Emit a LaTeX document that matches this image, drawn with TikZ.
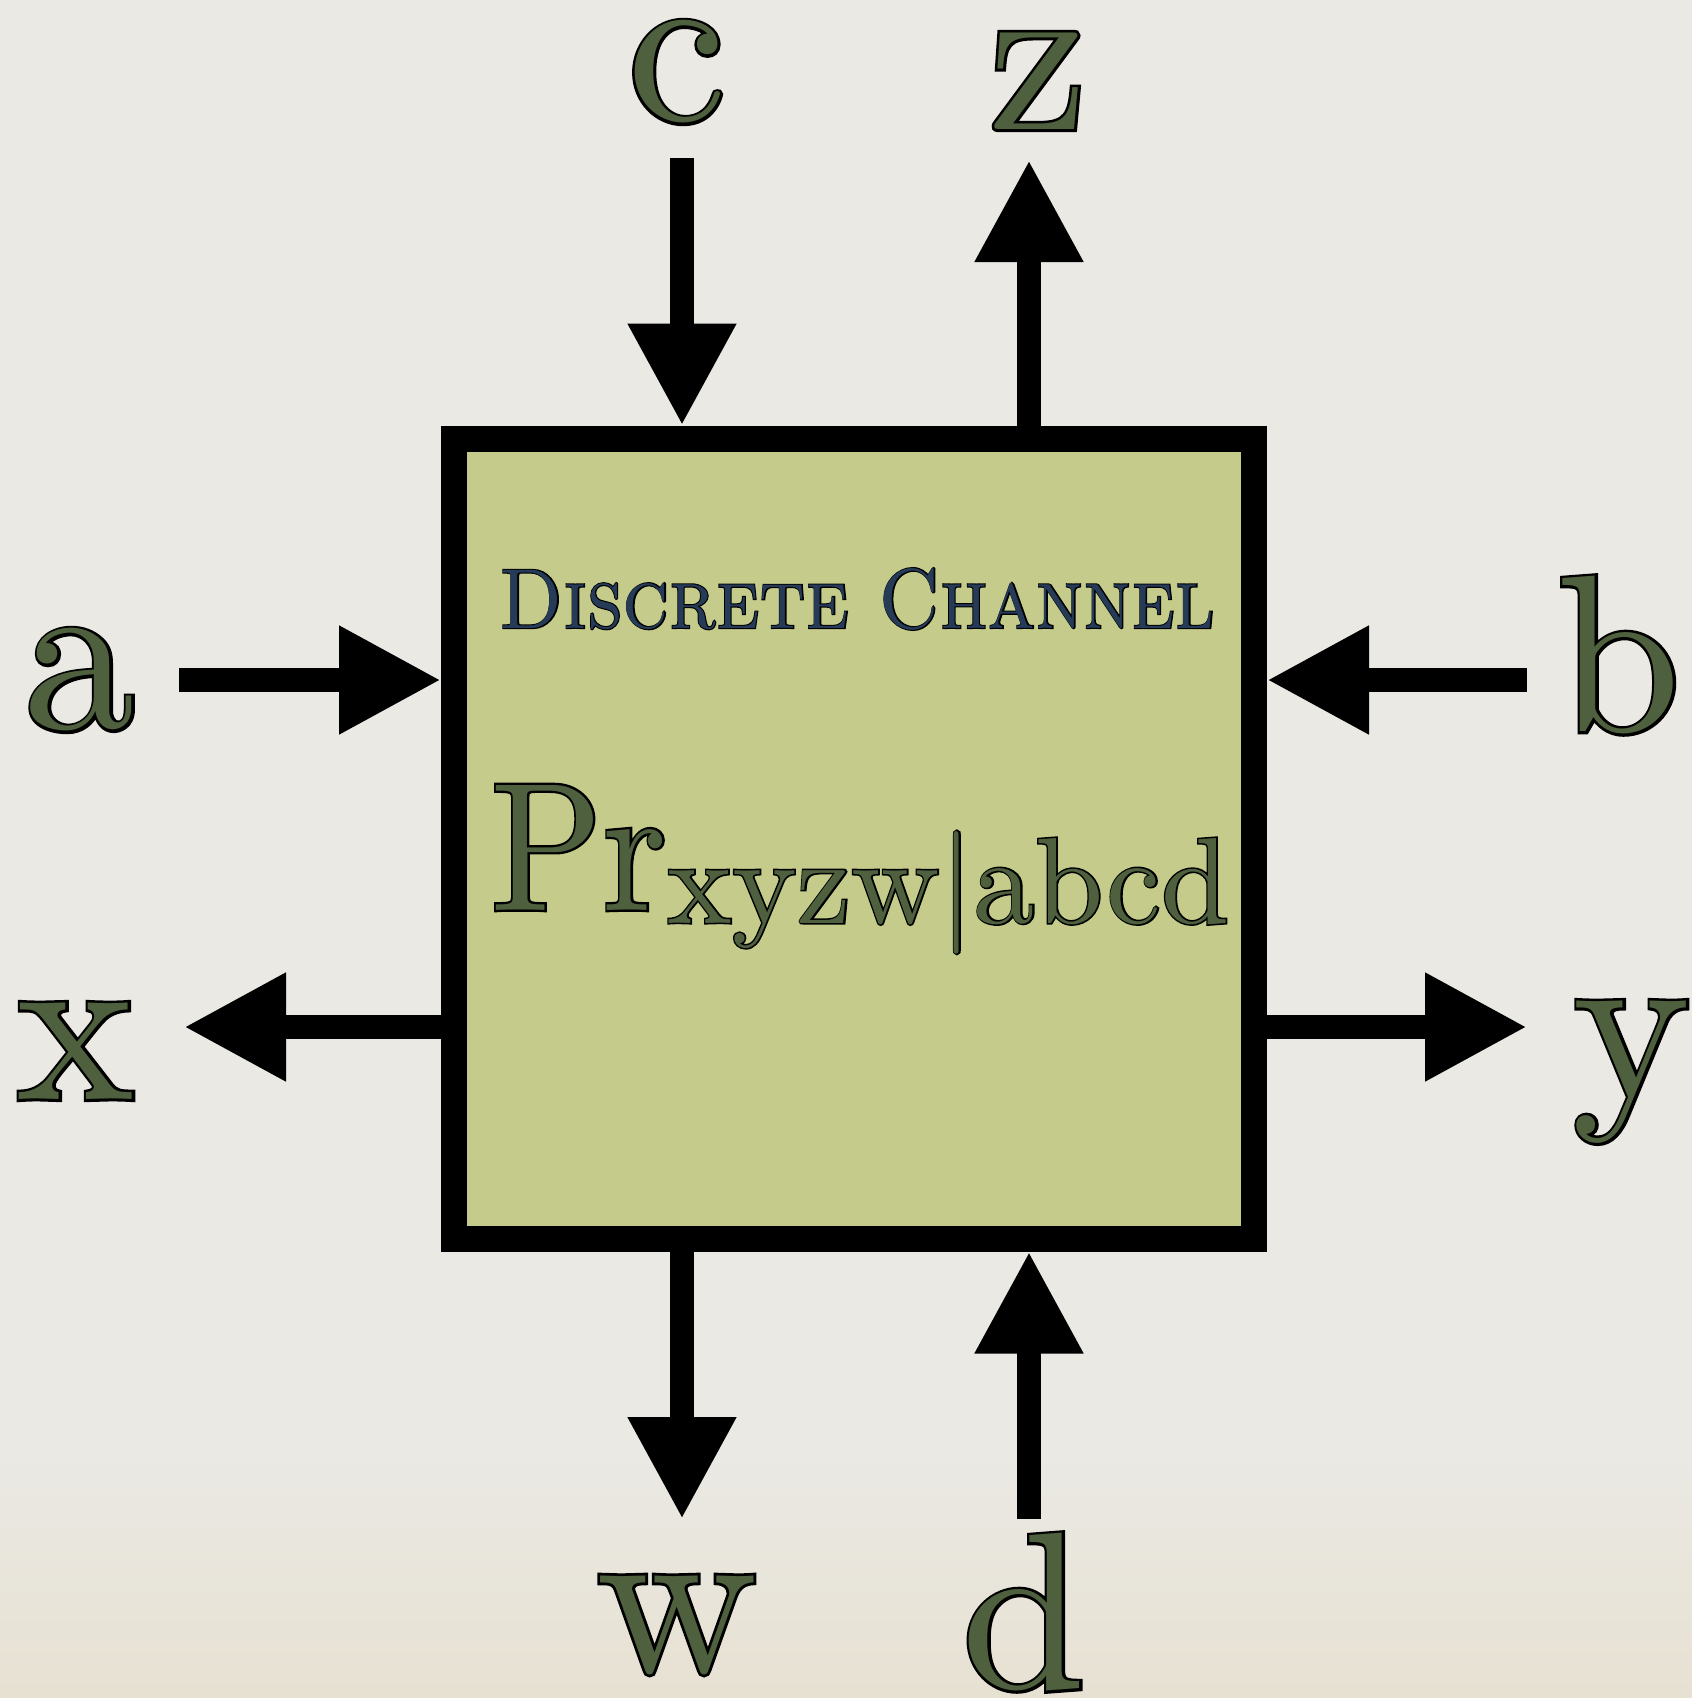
\documentclass[tikz,border=0pt]{standalone}
\usepackage{fontspec}
\usepackage{graphicx}
\setmainfont[Extension=.otf,SmallCapsFont=lmromancaps10-regular]{lmroman10-regular}
\newfontfamily\olfont[Extension=.otf,SmallCapsFont=lmromancaps10-regular,FakeBold=2.5]{lmroman10-regular}
\usetikzlibrary{arrows.meta}
\definecolor{bgc}{HTML}{EAE9E4}
\definecolor{bgwarm}{HTML}{E7E1D2}
\definecolor{boxfill}{HTML}{C5CC8B}
\definecolor{lettergreen}{HTML}{4F603E}
\definecolor{titlenavy}{HTML}{263B58}
\newcommand\outl[1]{\rlap{\color{black}\olfont #1}#1}
\begin{document}
\begin{tikzpicture}[x=0.5pt,y=-0.5pt,
  flow/.style={line width=12pt,-{Triangle[width=51pt,length=51pt]}},
  lbl/.style={inner sep=0pt,font=\fontsize{112}{112}\selectfont,text=lettergreen},
  chbox/.style={draw=black,line width=13pt,fill=boxfill,minimum width=400pt,minimum height=400pt,inner sep=0pt}]
\fill[bgc] (0,0) rectangle (1692,1698);
\shade[top color=bgc,bottom color=bgwarm] (0,1450) rectangle (1692,1698);
\useasboundingbox (0,0) rectangle (1692,1698);
\node[chbox] (ch) at (854,838.5) {};
\node[inner sep=0pt,text=titlenavy,font=\fontsize{40}{40}\selectfont] (title) at (857,599) {\resizebox{358pt}{30pt}{\outl{\scshape Discrete Channel}}};
\node[inner sep=0pt,anchor=base west,text=lettergreen,font=\fontsize{100}{100}\selectfont] (pr) at (490,910) {\resizebox{88.5pt}{62.5pt}{\outl{Pr}}};
\node[inner sep=0pt,anchor=base west,text=lettergreen,font=\fontsize{62}{62}\selectfont] (sub) at (667,923) {\resizebox{281pt}{!}{\outl{xyzw|abcd}}};
% labels
\node[lbl] (lc) at (677,72) {\outl{c}};
\node[lbl] (lz) at (1038,81) {\outl{z}};
\node[lbl] (la) at (80,680) {\outl{a}};
\node[lbl] (lb) at (1619,655) {\outl{b}};
\node[lbl] (lx) at (76,1051) {\outl{x}};
\node[lbl] (ly) at (1632,1072) {\outl{y}};
\node[lbl] (lw) at (677,1625) {\outl{w}};
\node[lbl] (ld) at (1024,1612) {\outl{d}};
% arrow ends
\coordinate (cs) at (682,158);
\coordinate (ze) at (1029,160);
\coordinate (as) at (179,680);
\coordinate (bs) at (1527,680);
\coordinate (xe) at (184,1027);
\coordinate (ye) at (1527,1027);
\coordinate (we) at (682,1519);
\coordinate (ds) at (1029,1519);
\draw[flow] (cs) -- (cs |- ch.north);
\draw[flow] (ze |- ch.north) -- (ze);
\draw[flow] (as) -- (as -| ch.west);
\draw[flow] (bs) -- (bs -| ch.east);
\draw[flow] (xe -| ch.west) -- (xe);
\draw[flow] (ye -| ch.east) -- (ye);
\draw[flow] (we |- ch.south) -- (we);
\draw[flow] (ds) -- (ds |- ch.south);
\end{tikzpicture}
\end{document}
